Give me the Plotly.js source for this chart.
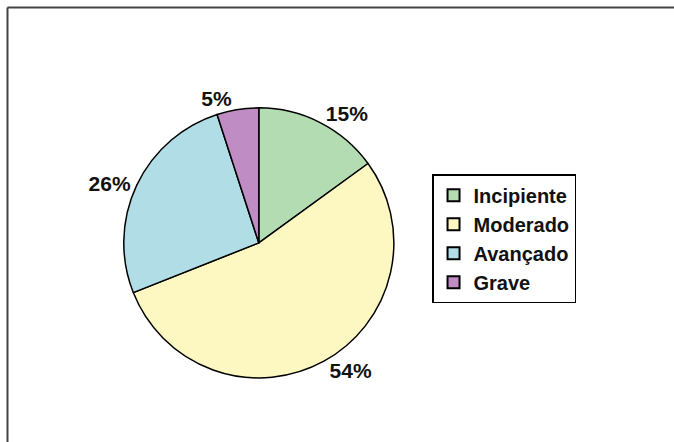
<!DOCTYPE html>
<html><head><meta charset="utf-8">
<script src="https://cdn.plot.ly/plotly-3.0.1.min.js"></script>
<style>html,body{margin:0;padding:0;background:#fff;}#chart{width:674px;height:442px;}</style>
</head><body><div id="chart"></div>
<script>
const categories = ["Incipiente", "Moderado", "Avançado", "Grave"];
const values = [15, 54, 26, 5];
const colors = ["#b4dcb3", "#fdf8c1", "#b1dde6", "#bf8cc4"];

const trace = {
  type: "pie",
  labels: categories,
  values: values,
  sort: false,
  direction: "clockwise",
  rotation: 0,
  marker: {colors: colors, line: {color: "#000", width: 1.5}},
  textposition: "outside",
  texttemplate: "%{percent:.0%}",
  textfont: {family: "Liberation Sans, Arial, sans-serif", size: 21, color: "#111", weight: "bold"},
  domain: {x: [0.18, 0.588], y: [0.145, 0.756]},
  hoverinfo: "none",
  automargin: false
};

const layout = {
  width: 674, height: 442,
  margin: {l: 0, r: 0, t: 0, b: 0},
  paper_bgcolor: "#fff",
  showlegend: true,
  legend: {
    x: 0.641, y: 0.606, xanchor: "left", yanchor: "top",
    bordercolor: "#000", borderwidth: 1.5, bgcolor: "#fff",
    font: {family: "Liberation Sans, Arial, sans-serif", size: 20, color: "#111", weight: "bold"},
    itemsizing: "constant", itemwidth: 30, tracegroupgap: 0
  },
  shapes: [
    {type: "line", xref: "paper", yref: "paper", x0: 7.5/674, x1: 1, y0: 1 - 7.5/442, y1: 1 - 7.5/442, line: {color: "#444", width: 2}},
    {type: "line", xref: "paper", yref: "paper", x0: 7.5/674, x1: 7.5/674, y0: 0, y1: 1 - 7.5/442, line: {color: "#444", width: 2}}
  ]
};

Plotly.newPlot("chart", [trace], layout, {staticPlot: true});
</script></body></html>
